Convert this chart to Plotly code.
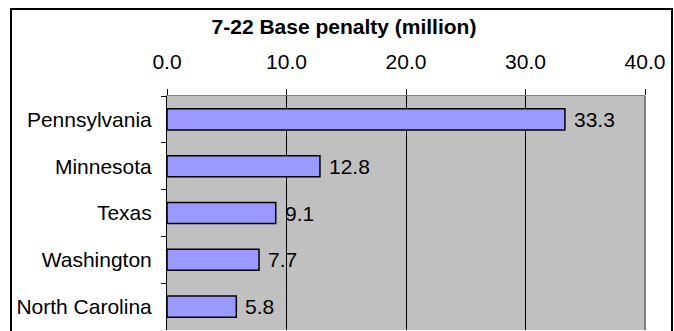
import plotly.graph_objects as go

states = ["Pennsylvania", "Minnesota", "Texas", "Washington", "North Carolina"]
penalty = [33.3, 12.8, 9.1, 7.7, 5.8]
x_ticks = [0, 10, 20, 30, 40]
x_tick_labels = ["0.0", "10.0", "20.0", "30.0", "40.0"]
title_text = "<b>7-22 Base penalty (million)</b>"

W, H = 674, 331
ML, MR, MT, MB = 167, 29, 96, 1
PW = W - ML - MR
PH = H - MT - MB
FONT = "Arial, Liberation Sans, sans-serif"


def px_x(p):
    return (p - ML) / PW


def px_y(p):
    return (H - MB - p) / PH


fig = go.Figure(
    go.Bar(
        x=penalty,
        y=states,
        orientation="h",
        marker=dict(color="#9999FF", line=dict(color="black", width=1.5)),
        cliponaxis=False,
    )
)

for s, v in zip(states, penalty):
    fig.add_annotation(
        x=v, y=s, xref="x", yref="y",
        text=f"{v:.1f}",
        showarrow=False,
        xanchor="left",
        yanchor="middle",
        xshift=7,
        font=dict(family=FONT, size=21, color="black"),
    )

fig.update_layout(
    width=W,
    height=H,
    margin=dict(l=ML, r=MR, t=MT, b=MB),
    paper_bgcolor="white",
    plot_bgcolor="#C0C0C0",
    bargap=0.55,
    showlegend=False,
    font=dict(family=FONT, size=21, color="black"),
    title=dict(
        text=title_text,
        font=dict(family=FONT, size=21, color="black"),
        x=344 / W,
        xanchor="center",
        xref="container",
        y=1 - 27 / H,
        yanchor="middle",
        yref="container",
    ),
    xaxis=dict(
        side="top",
        range=[0, 40],
        tickvals=x_ticks,
        ticktext=x_tick_labels,
        ticks="outside",
        ticklen=6,
        tickcolor="black",
        tickwidth=1,
        showgrid=True,
        gridcolor="black",
        gridwidth=1,
        showline=True,
        linecolor="#808080",
        linewidth=1,
        zeroline=False,
        ticklabelstandoff=12,
        tickfont=dict(family=FONT, size=21, color="black"),
    ),
    yaxis=dict(
        autorange="reversed",
        ticks="outside",
        tickson="boundaries",
        ticklen=5,
        tickcolor="black",
        showline=True,
        linecolor="black",
        linewidth=1,
        showgrid=False,
        ticklabelstandoff=10,
        tickfont=dict(family=FONT, size=21, color="black"),
    ),
    shapes=[
        dict(
            type="line", xref="paper", yref="paper",
            x0=1, x1=1, y0=0, y1=1,
            line=dict(color="#808080", width=2),
        ),
        dict(
            type="rect", xref="paper", yref="paper",
            x0=px_x(11), x1=px_x(672), y0=px_y(9), y1=-0.2,
            line=dict(color="black", width=2),
            fillcolor="rgba(0,0,0,0)",
        ),
    ],
)

fig.write_html("out.html")
